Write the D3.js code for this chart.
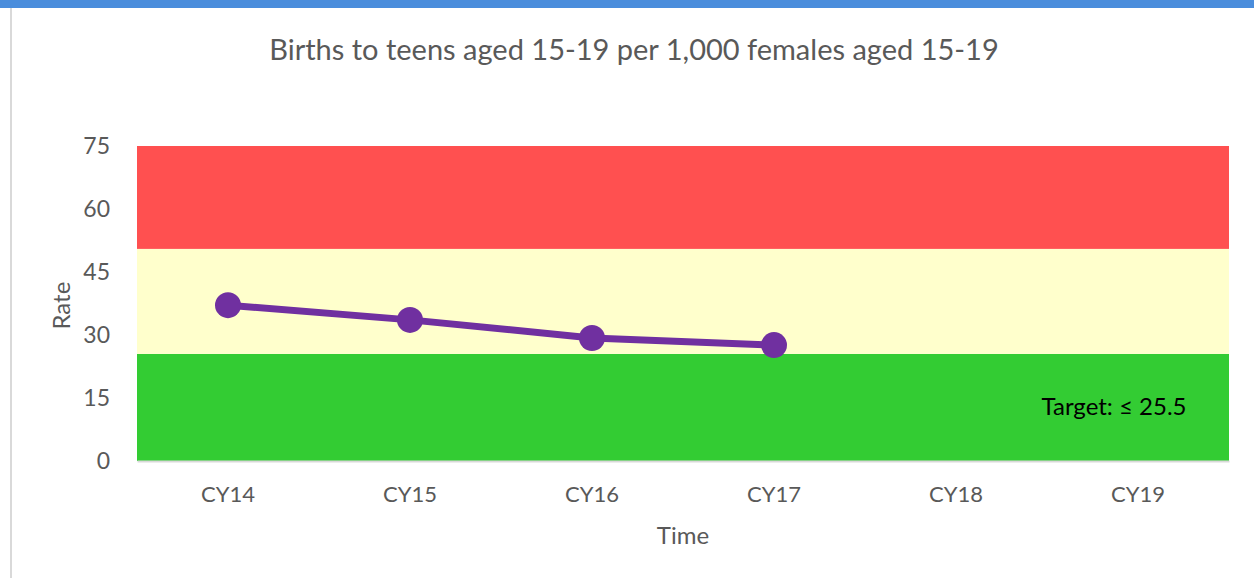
<!DOCTYPE html>
<html>
<head>
<meta charset="utf-8">
<script src="https://cdn.jsdelivr.net/npm/d3@7"></script>
<style>
  body { margin: 0; background: #fff; }
  text { font-family: Lato, "Open Sans", sans-serif; }
</style>
</head>
<body>
<script>
// data
var categories = ["CY14", "CY15", "CY16", "CY17", "CY18", "CY19"];
var rates = [37.1, 33.6, 29.3, 27.6];
var bandNames = ["green", "yellow", "red"];
var bandLimits = [0, 25.5, 50.5, 75];
var bandColors = ["#33cc33", "#ffffcc", "#ff5050"];
var yTicks = [0, 15, 30, 45, 60, 75];
var targetText = "Target: \u2264 25.5";

var margin = { top: 146, bottom: 117, left: 137, right: 25 };
var width = 1254 - margin.left - margin.right;
var height = 578 - margin.top - margin.bottom;

var root = d3.select("body")
    .append("svg")
    .attr("width", 1254)
    .attr("height", 578);

// frame bits
root.append("rect").attr("x", 0).attr("y", 0).attr("width", 1254).attr("height", 8).attr("fill", "#4a8ddc");
root.append("rect").attr("x", 10).attr("y", 8).attr("width", 2).attr("height", 570).attr("fill", "#d9d9d9");

root.append("text")
    .attr("x", 634).attr("y", 60)
    .attr("text-anchor", "middle")
    .attr("font-size", 29)
    .attr("fill", "#595959")
    .text("Births to teens aged 15-19 per 1,000 females aged 15-19");

var svg = root.append("g")
    .attr("transform", "translate(" + margin.left + "," + margin.top + ")");

var x = d3.scaleBand().domain(categories).range([0, width]);
var y = d3.scaleLinear().domain([0, 75]).range([height, 0]);

// bands
svg.selectAll(".band")
    .data(bandNames)
    .enter().append("rect")
    .attr("class", "band")
    .attr("x", 0)
    .attr("width", width)
    .attr("y", function (d, i) { return y(bandLimits[i + 1]); })
    .attr("height", function (d, i) { return y(bandLimits[i]) - y(bandLimits[i + 1]); })
    .attr("fill", function (d, i) { return bandColors[i]; });

// y axis
var yAxis = svg.append("g")
    .call(d3.axisLeft(y).tickValues(yTicks).tickSize(0).tickPadding(27));
yAxis.select(".domain").remove();
yAxis.selectAll("text").attr("font-size", 23).attr("fill", "#595959");

// x axis
var xAxis = svg.append("g")
    .attr("transform", "translate(0," + height + ")")
    .call(d3.axisBottom(x).tickSize(0).tickPadding(25));
xAxis.select(".domain").attr("stroke", "#d9d9d9").attr("stroke-width", 2);
xAxis.selectAll("text").attr("font-size", 22).attr("fill", "#595959");

// axis titles
svg.append("text")
    .attr("x", width / 2).attr("y", height + 83)
    .attr("text-anchor", "middle")
    .attr("font-size", 24)
    .attr("fill", "#595959")
    .text("Time");
svg.append("text")
    .attr("transform", "translate(-67," + y(37) + ") rotate(-90)")
    .attr("text-anchor", "middle")
    .attr("font-size", 24)
    .attr("fill", "#595959")
    .text("Rate");

// target label
svg.append("text")
    .attr("x", x("CY19") + x.bandwidth() / 2 - 24)
    .attr("y", y(15) + 17)
    .attr("text-anchor", "middle")
    .attr("font-size", 24)
    .attr("fill", "#000")
    .text(targetText);

// line
var line = d3.line()
    .x(function (d, i) { return x(categories[i]) + x.bandwidth() / 2; })
    .y(function (d) { return y(d); });

svg.append("path")
    .datum(rates)
    .attr("fill", "none")
    .attr("stroke", "#7030a0")
    .attr("stroke-width", 7)
    .attr("d", line);

svg.selectAll(".dot")
    .data(rates)
    .enter().append("circle")
    .attr("class", "dot")
    .attr("cx", function (d, i) { return x(categories[i]) + x.bandwidth() / 2; })
    .attr("cy", function (d) { return y(d); })
    .attr("r", 13)
    .attr("fill", "#7030a0");
</script>
</body>
</html>
